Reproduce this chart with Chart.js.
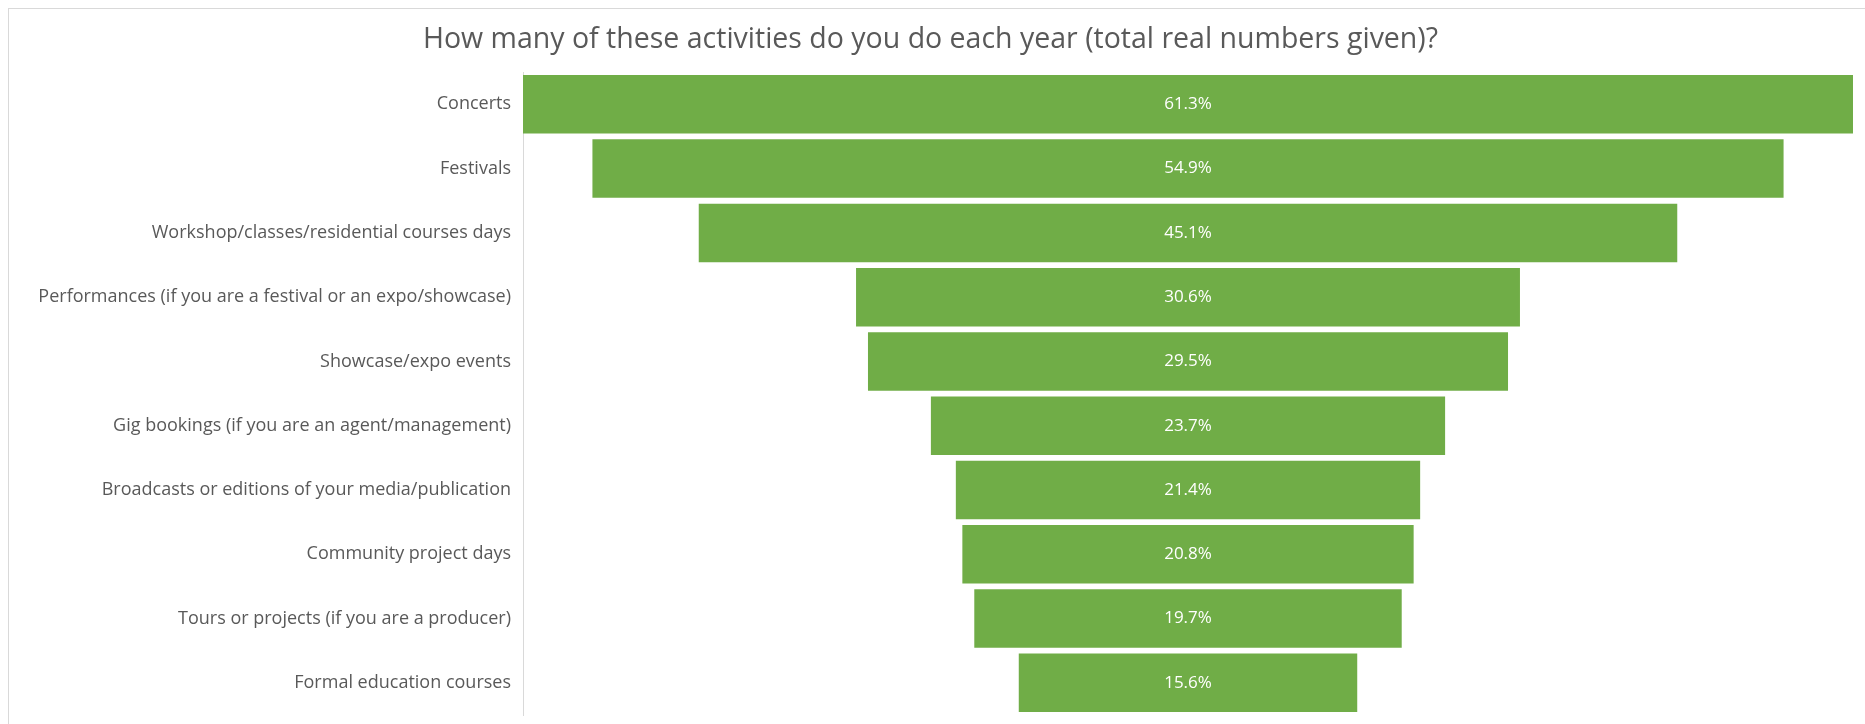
<!DOCTYPE html>
<html>
<head>
<meta charset="utf-8">
<script src="https://cdn.jsdelivr.net/npm/chart.js@4/dist/chart.umd.min.js"></script>
<style>
  html, body { margin: 0; background: #fff; overflow: hidden; }
  #frame { position: absolute; left: 8px; top: 8px; width: 1857px; height: 716px;
           border-top: 1px solid #d9d9d9; border-left: 1px solid #d9d9d9; box-sizing: border-box; }
  #myChart { position: absolute; left: 0; top: 0; }
</style>
</head>
<body>
<div id="frame"></div>
<canvas id="myChart" width="1865" height="724"></canvas>
<script>
const categories = [
    'Concerts',
    'Festivals',
    'Workshop/classes/residential courses days',
    'Performances (if you are a festival or an expo/showcase)',
    'Showcase/expo events',
    'Gig bookings (if you are an agent/management)',
    'Broadcasts or editions of your media/publication',
    'Community project days',
    'Tours or projects (if you are a producer)',
    'Formal education courses'
];
const percents = [61.3, 54.9, 45.1, 30.6, 29.5, 23.7, 21.4, 20.8, 19.7, 15.6];

const chartTitle = 'How many of these activities do you do each year (total real numbers given)?';

const ctx = document.getElementById('myChart');
const maxVal = Math.max(...percents);

// white % labels in the middle of each bar
const barLabels = {
    id: 'barLabels',
    afterDatasetsDraw(chart) {
        const c = chart.ctx;
        const meta = chart.getDatasetMeta(0);
        c.save();
        c.fillStyle = '#ffffff';
        c.font = '17px "Open Sans"';
        c.textAlign = 'center';
        c.textBaseline = 'middle';
        meta.data.forEach(function(bar, i) {
            c.fillText(percents[i].toFixed(1) + '%', (bar.x + bar.base) / 2, bar.y);
        });
        c.restore();
    }
};

function createChart() {
    new Chart(ctx, {
        type: 'bar',
        data: {
            labels: categories,
            datasets: [{
                data: percents.map(v => [-v / 2, v / 2]),
                backgroundColor: '#70ad47',
                borderWidth: 0,
                barPercentage: 0.91,
                categoryPercentage: 1
            }]
        },
        options: {
            indexAxis: 'y',
            responsive: false,
            animation: false,
            layout: { padding: { left: 8, right: 12, top: 0, bottom: 9 } },
            plugins: {
                legend: { display: false },
                tooltip: { enabled: false },
                title: {
                    display: true,
                    text: chartTitle,
                    color: '#595959',
                    font: { family: 'Open Sans', size: 28.5, weight: 'normal' },
                    padding: { top: 23, bottom: 15 }
                }
            },
            scales: {
                x: {
                    display: false,
                    min: -maxVal / 2,
                    max: maxVal / 2
                },
                y: {
                    afterFit: function(scale) {
                        scale.width = 515;
                        scale.paddingTop = 0;
                        scale.paddingBottom = 0;
                    },
                    grid: { display: true, drawOnChartArea: false, drawTicks: false },
                    border: { display: true, color: '#d9d9d9' },
                    ticks: {
                        color: '#595959',
                        padding: 12,
                        font: { family: 'Open Sans', size: 18 }
                    }
                }
            }
        },
        plugins: [barLabels]
    });
}

createChart();
</script>
</body>
</html>
